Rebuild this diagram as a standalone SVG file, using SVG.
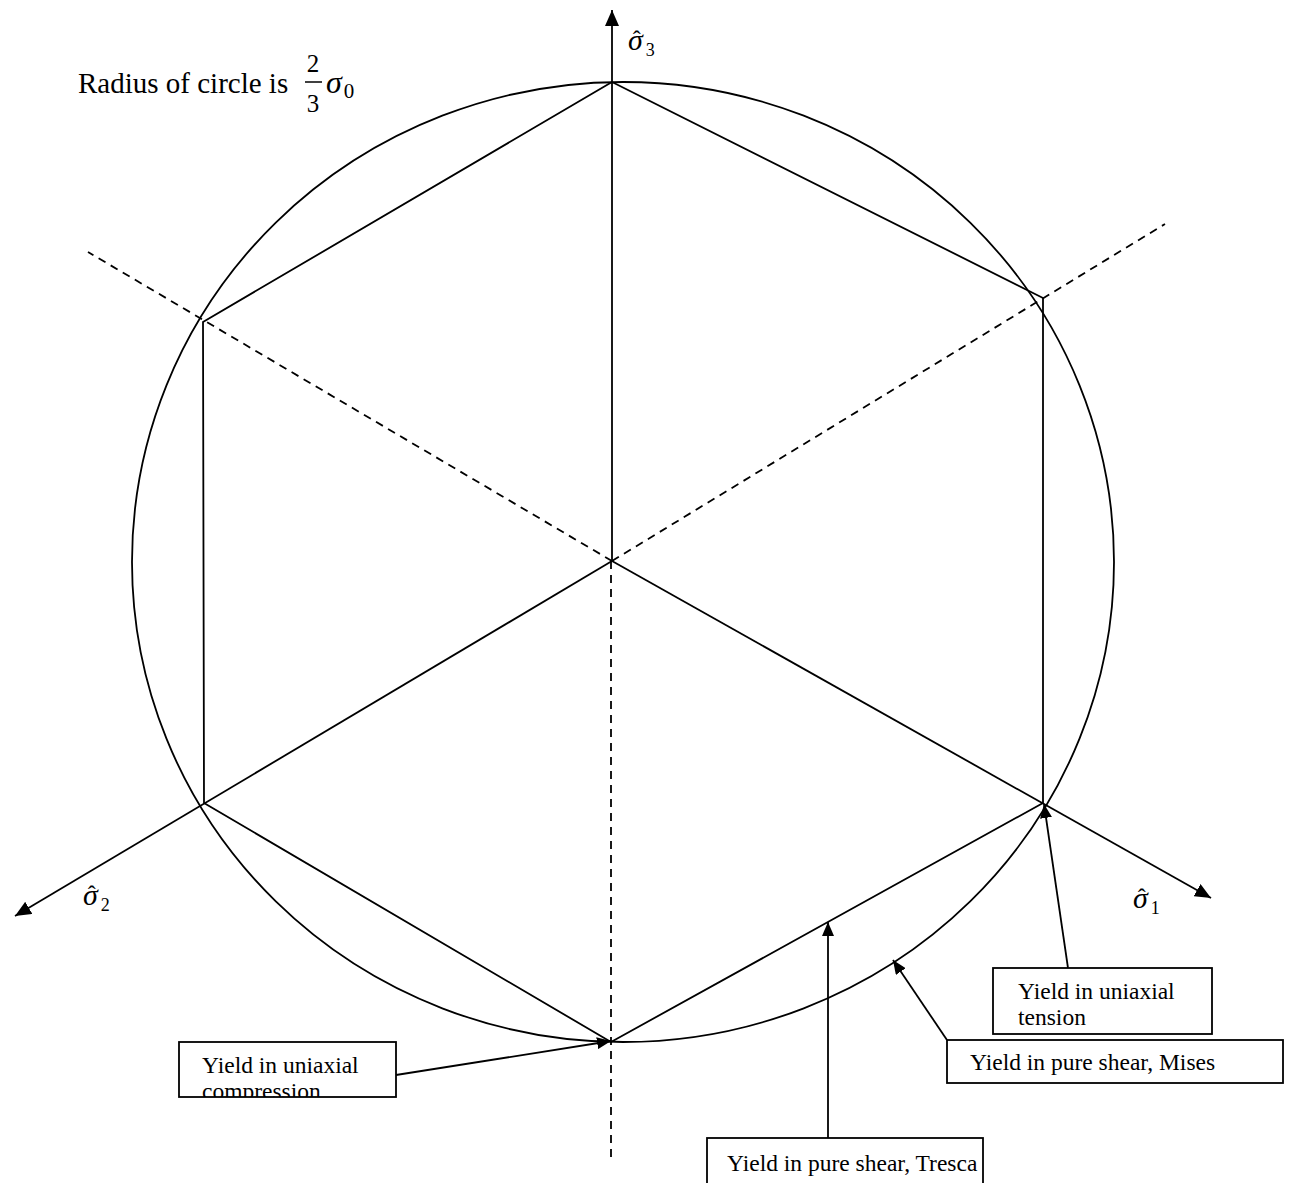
<svg xmlns="http://www.w3.org/2000/svg" width="1291" height="1183" viewBox="0 0 1291 1183">
<style>
.ln{stroke:#000;stroke-width:1.8;fill:none}
.ds{stroke:#000;stroke-width:1.8;fill:none;stroke-dasharray:8 6}
.box{fill:#fff;stroke:#000;stroke-width:1.8}
.t{font-family:"Liberation Serif","Times New Roman",serif;fill:#000}
.bt{font-family:"Liberation Serif","Times New Roman",serif;font-size:23.5px;fill:#000}
.sg{font-style:italic;font-size:30px}
.hat{font-size:24px;font-style:normal}
.sub{font-size:18px;font-style:normal}
</style>
<defs>
<marker id="ah" markerUnits="userSpaceOnUse" viewBox="0 0 16 14" refX="16" refY="7" markerWidth="16" markerHeight="14" orient="auto"><path d="M0,0 L16,7 L0,14 z" fill="#000"/></marker>
<marker id="ah2" markerUnits="userSpaceOnUse" viewBox="0 0 14 12" refX="14" refY="6" markerWidth="14" markerHeight="12" orient="auto"><path d="M0,0 L14,6 L0,12 z" fill="#000"/></marker>
<clipPath id="cpc"><rect x="179" y="1042" width="217" height="55"/></clipPath>
</defs>
<rect width="1291" height="1183" fill="#fff"/>
<g id="title">
<text class="t" x="78" y="93" font-size="29">Radius of circle is</text>
<text class="t" x="313" y="72" font-size="25" text-anchor="middle">2</text>
<line x1="305" y1="82" x2="322" y2="82" stroke="#000" stroke-width="1.5"/>
<text class="t" x="313" y="112" font-size="25" text-anchor="middle">3</text>
<text class="t" x="326" y="93" font-size="32"><tspan font-style="italic">σ</tspan><tspan font-size="21" dx="2" dy="5">0</tspan></text>
</g>
<g id="yield-circle"><ellipse class="ln" cx="623" cy="562" rx="491" ry="480"/></g>
<g id="tresca-hexagon"><polygon class="ln" points="612,82 1043,298 1043,803 611,1042 204,803 203,322"/></g>
<g id="axes">
<line class="ln" x1="612" y1="561" x2="612" y2="10" marker-end="url(#ah)"/>
<line class="ln" x1="612" y1="561" x2="1211" y2="898" marker-end="url(#ah)"/>
<line class="ln" x1="612" y1="561" x2="15" y2="916" marker-end="url(#ah)"/>
<line class="ds" x1="612" y1="561" x2="88" y2="252"/>
<line class="ds" x1="612" y1="561" x2="1165" y2="224"/>
<line class="ds" x1="611" y1="561" x2="611" y2="1160"/>
</g>
<g id="label-s3"><text class="t" x="628" y="50"><tspan class="sg">σ</tspan><tspan class="hat" dx="-10" dy="-3">ˆ</tspan><tspan class="sub" dx="5" dy="9">3</tspan></text></g>
<g id="label-s1"><text class="t" x="1133" y="908"><tspan class="sg">σ</tspan><tspan class="hat" dx="-10" dy="-3">ˆ</tspan><tspan class="sub" dx="5" dy="9">1</tspan></text></g>
<g id="label-s2"><text class="t" x="83" y="905"><tspan class="sg">σ</tspan><tspan class="hat" dx="-10" dy="-3">ˆ</tspan><tspan class="sub" dx="5" dy="9">2</tspan></text></g>
<g id="connectors">
<line class="ln" x1="396" y1="1075" x2="611" y2="1041" marker-end="url(#ah2)"/>
<line class="ln" x1="828" y1="1138" x2="828" y2="922" marker-end="url(#ah2)"/>
<line class="ln" x1="947" y1="1040" x2="893" y2="960" marker-end="url(#ah2)"/>
<line class="ln" x1="1068" y1="968" x2="1044" y2="804" marker-end="url(#ah2)"/>
</g>
<g id="box-compression">
<rect class="box" x="179" y="1042" width="217" height="55"/>
<g clip-path="url(#cpc)"><text class="bt" x="202" y="1073">Yield in uniaxial</text><text class="bt" x="202" y="1099">compression</text></g>
</g>
<g id="box-tension">
<rect class="box" x="993" y="968" width="219" height="66"/>
<text class="bt" x="1018" y="999">Yield in uniaxial</text><text class="bt" x="1018" y="1025">tension</text>
</g>
<g id="box-mises">
<rect class="box" x="947" y="1040" width="336" height="43"/>
<text class="bt" x="970" y="1070">Yield in pure shear, Mises</text>
</g>
<g id="box-tresca">
<rect class="box" x="707" y="1138" width="276" height="50"/>
<text class="bt" x="727" y="1171">Yield in pure shear, Tresca</text>
</g>
</svg>
